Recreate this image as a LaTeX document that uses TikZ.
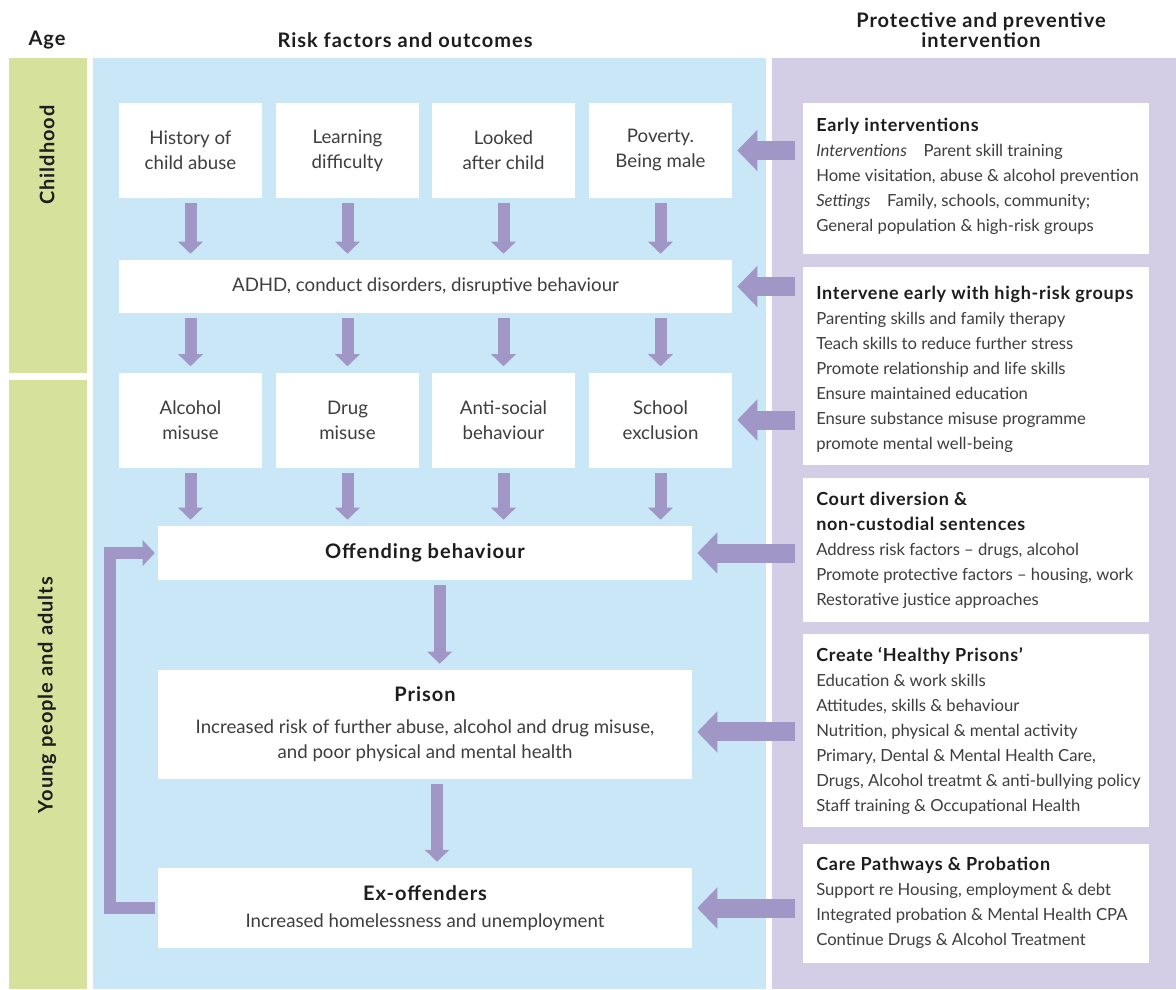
\documentclass[tikz,border=0pt]{standalone}
\usepackage{fontspec}
\setmainfont{Lato}
\usetikzlibrary{arrows.meta}

\definecolor{agegreen}{RGB}{214,225,156}
\definecolor{riskblue}{RGB}{201,231,247}
\definecolor{protlilac}{RGB}{211,206,230}
\definecolor{arrowlilac}{RGB}{161,151,199}
\definecolor{bodygray}{RGB}{62,62,62}
\definecolor{headblack}{RGB}{30,28,30}

\tikzset{
  riskbox/.style={fill=white, inner sep=0pt, align=center, text=bodygray,
    font=\fontsize{14}{18.75}\selectfont},
  protbox/.style={fill=white, inner sep=0pt, minimum width=259.5pt},
  prottext/.style={anchor=west, inner sep=0pt, align=left, text=bodygray,
    font=\fontsize{12.5}{18.75}\selectfont},
  heading/.style={inner sep=0pt, align=center, text=headblack,
    font=\fontsize{15}{15}\selectfont\bfseries\addfontfeature{LetterSpace=5}},
  downarrow/.style={draw=arrowlilac, line width=9pt,
    -{Triangle[width=18pt,length=9pt]}, shorten <=3.75pt, shorten >=4.5pt},
  sidearrow/.style={draw=arrowlilac, line width=14.25pt,
    -{Triangle[width=30pt,length=15pt]}, shorten <=6pt, shorten >=3.75pt},
  looparrow/.style={draw=arrowlilac, line width=9pt, line join=miter,
    -{Triangle[width=18.75pt,length=9pt]}, shorten <=2.25pt, shorten >=2.25pt}
}
% bold titles, risk side and protective side
\newcommand{\ttl}[1]{{\color{headblack}\fontsize{15}{18.75}\selectfont\bfseries\addfontfeature{LetterSpace=5}#1}}
\newcommand{\ptl}[1]{{\color{headblack}\fontsize{13.5}{18.75}\selectfont\bfseries\addfontfeature{LetterSpace=4}#1}}

\begin{document}
\begin{tikzpicture}[x=0.75pt,y=0.75pt,yscale=-1,xscale=1]
\useasboundingbox (0,0) rectangle (1176,989);

%Shape: Age column
\fill [agegreen] (9,58) rectangle (87,373);
\fill [agegreen] (9,380) rectangle (87,989);
%Shape: Risk panel
\fill [riskblue] (93,58) rectangle (766,989);
%Shape: Protective panel
\fill [protlilac] (772,58) rectangle (1176,989);

% Headings
\node [heading] (hdage) at (47,40) {Age};
\node [heading] (hdrisk) at (405,40) {Risk factors and outcomes};
\node [heading] (hdprot) at (981,30) {Protective and preventive\\intervention};
\node [heading, rotate=90] (child) at (47,155) {Childhood};
\node [heading, rotate=90] (young) at (47,695) {Young people and adults};

% Risk factors, first row
\node [riskbox, minimum width=107.25pt, minimum height=71.25pt] (abuse) at (190.5,150.5) {History of\\child abuse};
\node [riskbox, minimum width=107.25pt, minimum height=71.25pt] (learn) at (347.5,150.5) {Learning\\difficulty};
\node [riskbox, minimum width=107.25pt, minimum height=71.25pt] (looked) at (503.5,150.5) {Looked\\after child};
\node [riskbox, minimum width=107.25pt, minimum height=71.25pt] (poverty) at (660.5,150.5) {Poverty.\\Being male};
% ADHD
\node [riskbox, minimum width=459.75pt, minimum height=39.75pt] (adhd) at (425.5,286.5) {ADHD, conduct disorders, disruptive behaviour};
% Second row
\node [riskbox, minimum width=107.25pt, minimum height=71.25pt] (alcohol) at (190.5,420) {Alcohol\\misuse};
\node [riskbox, minimum width=107.25pt, minimum height=71.25pt] (drug) at (347.5,420) {Drug\\misuse};
\node [riskbox, minimum width=107.25pt, minimum height=71.25pt] (antisoc) at (503.5,420) {Anti-social\\behaviour};
\node [riskbox, minimum width=107.25pt, minimum height=71.25pt] (exclusion) at (660.5,420) {School\\exclusion};
% Outcomes
\node [riskbox, minimum width=400.5pt, minimum height=40.5pt] (offend) at (425,553) {\ttl{Offending behaviour}};
\node [riskbox, minimum width=400.5pt, minimum height=81.75pt] (prison) at (425,724.5) {\ttl{Prison}\\[5pt]Increased risk of further abuse, alcohol and drug misuse,\\and poor physical and mental health};
\node [riskbox, minimum width=400.5pt, minimum height=60pt] (exoff) at (425,908) {\ttl{Ex-offenders}\\[2pt]Increased homelessness and unemployment};

% Protective boxes
\node [protbox, minimum height=113.25pt] (early) at (976,178.5) {};
\node [prottext] (earlytxt) at (816,176) {\ptl{Early interventions}\\\textit{Interventions}\quad Parent skill training\\Home visitation, abuse \& alcohol prevention\\\textit{Settings}\quad Family, schools, community;\\General population \& high-risk groups};
\node [protbox, minimum height=148.5pt] (highrisk) at (976,366) {};
\node [prottext] (highrisktxt) at (816,369) {\ptl{Intervene early with high-risk groups}\\Parenting skills and family therapy\\Teach skills to reduce further stress\\Promote relationship and life skills\\Ensure maintained education\\Ensure substance misuse programme\\promote mental well-being};
\node [protbox, minimum height=108pt] (court) at (976,550) {};
\node [prottext] (courttxt) at (816,550) {\ptl{Court diversion \&}\\\ptl{non-custodial sentences}\\Address risk factors -- drugs, alcohol\\Promote protective factors -- housing, work\\Restorative justice approaches};
\node [protbox, minimum height=144.75pt] (healthy) at (976,730.5) {};
\node [prottext] (healthytxt) at (816,731) {\ptl{Create `Healthy Prisons'}\\Education \& work skills\\Attitudes, skills \& behaviour\\Nutrition, physical \& mental activity\\Primary, Dental \& Mental Health Care,\\Drugs, Alcohol treatmt \& anti-bullying policy\\Staff training \& Occupational Health};
\node [protbox, minimum height=89.25pt] (care) at (976,903.5) {};
\node [prottext] (caretxt) at (816,902.5) {\ptl{Care Pathways \& Probation}\\Support re Housing, employment \& debt\\Integrated probation \& Mental Health CPA\\Continue Drugs \& Alcohol Treatment};

% Down arrows
\foreach \src/\dst in {abuse/adhd, learn/adhd, looked/adhd, poverty/adhd,
    alcohol/offend, drug/offend, antisoc/offend, exclusion/offend}
  \draw [downarrow] (\src.south) -- (\src.south |- \dst.north);
\foreach \dst in {alcohol, drug, antisoc, exclusion}
  \draw [downarrow] (adhd.south -| \dst.north) -- (\dst.north);
\draw [downarrow] ([xshift=11pt]offend.south) -- ([xshift=11pt]prison.north);
\draw [downarrow] ([xshift=9pt]prison.south) -- ([xshift=9pt]exoff.north);

% Side arrows
\draw [sidearrow] (early.west |- poverty.east) -- (poverty.east);
\draw [sidearrow] (highrisk.west |- adhd.east) -- (adhd.east);
\draw [sidearrow] (highrisk.west |- exclusion.east) -- (exclusion.east);
\draw [sidearrow] (court.west |- offend.east) -- (offend.east);
\draw [sidearrow] ([yshift=5.6pt]healthy.west |- prison.east) -- ([yshift=5.6pt]prison.east);
\draw [sidearrow] (care.west |- exoff.east) -- (exoff.east);

% Feedback loop
\coordinate (loopx) at (110,730);
\draw [looparrow] (exoff.west) -| (loopx) |- (offend.west);

\end{tikzpicture}
\end{document}
